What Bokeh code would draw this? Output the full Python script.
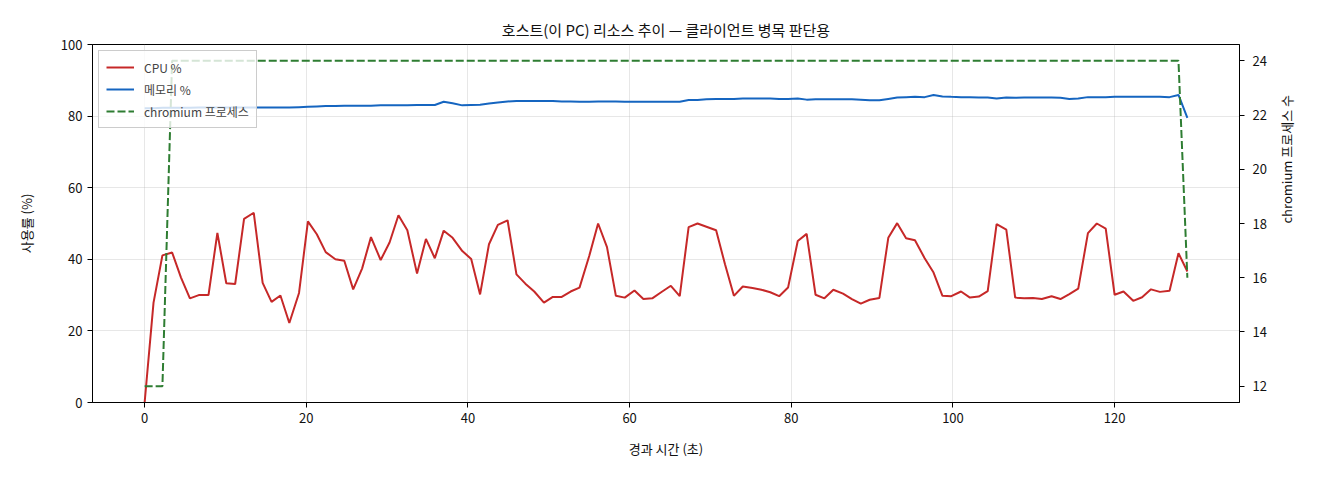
import math

from bokeh.plotting import figure
from bokeh.models import Range1d, LinearAxis, FixedTicker, Legend, LegendItem
from bokeh.embed import file_html
from bokeh.resources import INLINE

# elapsed seconds of each sample (~1.12 s apart)
elapsed = [0.0, 1.1, 2.2, 3.4, 4.5, 5.6, 6.7, 7.9, 9.0, 10.1,
           11.2, 12.3, 13.5, 14.6, 15.7, 16.8, 17.9, 19.1, 20.2, 21.3,
           22.4, 23.6, 24.7, 25.8, 26.9, 28.0, 29.2, 30.3, 31.4, 32.5,
           33.7, 34.8, 35.9, 37.0, 38.1, 39.3, 40.4, 41.5, 42.6, 43.7,
           44.9, 46.0, 47.1, 48.2, 49.4, 50.5, 51.6, 52.7, 53.8, 55.0,
           56.1, 57.2, 58.3, 59.4, 60.6, 61.7, 62.8, 63.9, 65.1, 66.2,
           67.3, 68.4, 69.5, 70.7, 71.8, 72.9, 74.0, 75.2, 76.3, 77.4,
           78.5, 79.6, 80.8, 81.9, 83.0, 84.1, 85.2, 86.4, 87.5, 88.6,
           89.7, 90.9, 92.0, 93.1, 94.2, 95.3, 96.5, 97.6, 98.7, 99.8,
           101.0, 102.1, 103.2, 104.3, 105.4, 106.6, 107.7, 108.8, 109.9, 111.0,
           112.2, 113.3, 114.4, 115.5, 116.7, 117.8, 118.9, 120.0, 121.1, 122.3,
           123.4, 124.5, 125.6, 126.8, 127.9, 129.0]

cpu = [0.0, 27.9, 41.1, 41.9, 34.9, 29.1, 30.0, 30.0, 47.4, 33.3,
       33.1, 51.3, 53.0, 33.4, 28.1, 29.9, 22.2, 30.6, 50.6, 47.0,
       42.0, 40.0, 39.6, 31.6, 37.4, 46.2, 39.8, 44.7, 52.3, 48.1,
       36.0, 45.7, 40.3, 48.0, 46.0, 42.3, 40.1, 30.2, 44.2, 49.6,
       50.9, 35.8, 33.2, 31.0, 27.9, 29.5, 29.5, 31.0, 32.1, 40.9,
       50.0, 43.4, 29.8, 29.3, 31.3, 28.9, 29.1, 30.8, 32.6, 29.7,
       49.0, 50.0, 49.1, 48.1, 38.6, 29.8, 32.4, 32.0, 31.5, 30.8,
       29.7, 32.1, 45.1, 47.1, 30.1, 29.1, 31.5, 30.4, 28.9, 27.6,
       28.7, 29.2, 46.0, 50.1, 45.9, 45.3, 40.3, 36.3, 29.8, 29.7,
       31.0, 29.3, 29.6, 31.1, 49.8, 48.3, 29.3, 29.1, 29.2, 28.9,
       29.7, 28.9, 30.3, 31.8, 47.3, 50.0, 48.6, 30.1, 31.0, 28.4,
       29.4, 31.6, 30.9, 31.2, 41.7, 36.6]

memory = [82.2, 82.2, 82.3, 82.3, 82.3, 82.3, 82.4, 82.4, 82.4, 82.4,
          82.4, 82.4, 82.4, 82.4, 82.4, 82.4, 82.4, 82.5, 82.6, 82.7,
          82.8, 82.8, 82.9, 82.9, 82.9, 82.9, 83.0, 83.0, 83.0, 83.0,
          83.1, 83.1, 83.1, 84.0, 83.6, 83.0, 83.1, 83.2, 83.5, 83.8,
          84.1, 84.2, 84.2, 84.2, 84.2, 84.2, 84.1, 84.1, 84.0, 84.0,
          84.1, 84.1, 84.1, 84.0, 84.0, 84.0, 84.0, 84.0, 84.0, 84.0,
          84.5, 84.5, 84.7, 84.8, 84.8, 84.8, 84.9, 84.9, 84.9, 84.9,
          84.8, 84.8, 84.9, 84.6, 84.7, 84.7, 84.7, 84.7, 84.7, 84.6,
          84.4, 84.4, 84.8, 85.2, 85.3, 85.4, 85.3, 85.9, 85.5, 85.4,
          85.3, 85.3, 85.2, 85.2, 84.9, 85.2, 85.1, 85.2, 85.2, 85.2,
          85.2, 85.1, 84.8, 84.9, 85.3, 85.3, 85.3, 85.4, 85.4, 85.4,
          85.4, 85.4, 85.4, 85.3, 85.9, 79.5]

chromium = [12, 12, 12] + [24] * 112 + [16]

x_ticks = [0, 20, 40, 60, 80, 100, 120]
y_ticks = [0, 20, 40, 60, 80, 100]
proc_ticks = [12, 14, 16, 18, 20, 22, 24]

FONT = "Noto Sans CJK KR"

p = figure(
    frame_width=1147,
    frame_height=358,
    min_border_left=92,
    min_border_right=65,
    min_border_top=44,
    min_border_bottom=62,
    x_range=Range1d(-6.45, 135.45),
    y_range=Range1d(0, 100),
    output_backend="svg",
    toolbar_location=None,
    title="호스트(이 PC) 리소스 추이 — 클라이언트 병목 판단용",
)
p.extra_y_ranges = {"proc": Range1d(11.4, 24.6)}

p.title.align = "center"
p.title.text_font = FONT
p.title.text_font_size = "15px"
p.title.text_font_style = "normal"
p.title.text_color = "#111111"
p.title.offset = 0
p.title.standoff = 10

# lines
r_cpu = p.line(elapsed, cpu, line_color="#c62828", line_width=2)
r_mem = p.line(elapsed, memory, line_color="#1565c0", line_width=2)
r_proc = p.line(elapsed, chromium, line_color="#2e7d32", line_width=2,
                line_dash="8 3", y_range_name="proc")

# right axis for the process count
right = LinearAxis(y_range_name="proc", axis_label="chromium 프로세스 수")
p.add_layout(right, "right")

p.xaxis.axis_label = "경과 시간 (초)"
p.yaxis[0].axis_label = "사용률 (%)"
p.xaxis.ticker = FixedTicker(ticks=x_ticks)
p.yaxis[0].ticker = FixedTicker(ticks=y_ticks)
right.ticker = FixedTicker(ticks=proc_ticks)

for ax in p.xaxis + p.yaxis:
    ax.axis_label_text_font = FONT
    ax.axis_label_text_font_size = "13px"
    ax.axis_label_text_font_style = "normal"
    ax.axis_label_text_color = "#111111"
    ax.major_label_text_font = FONT
    ax.major_label_text_font_size = "13px"
    ax.major_label_text_color = "#111111"
    ax.minor_tick_line_color = None
    ax.major_tick_in = 0
    ax.major_tick_out = 5
    ax.axis_line_color = "black"
    ax.major_tick_line_color = "black"

p.xaxis.axis_label_standoff = 13
p.yaxis[0].axis_label_standoff = 22
right.major_label_standoff = 8
right.axis_label_standoff = 17
right.axis_label_orientation = math.pi / 2

# grid
p.xgrid.ticker = FixedTicker(ticks=x_ticks)
p.ygrid.ticker = FixedTicker(ticks=y_ticks)
p.grid.grid_line_color = "#b0b0b0"
p.grid.grid_line_alpha = 0.3

p.outline_line_color = "black"
p.outline_line_alpha = 1
p.background_fill_color = "white"
p.border_fill_color = "white"

legend = Legend(items=[
    LegendItem(label="CPU %", renderers=[r_cpu]),
    LegendItem(label="메모리 %", renderers=[r_mem]),
    LegendItem(label="chromium 프로세스", renderers=[r_proc]),
], location="top_left")
legend.margin = 6
legend.padding = 7
legend.spacing = 4
legend.glyph_width = 28
legend.glyph_height = 18
legend.label_text_font = FONT
legend.label_text_font_size = "12px"
legend.label_standoff = 10
legend.border_line_color = "#cccccc"
legend.border_line_alpha = 1
legend.background_fill_alpha = 0.8
p.add_layout(legend)

open("out.html", "w").write(file_html(p, INLINE))
